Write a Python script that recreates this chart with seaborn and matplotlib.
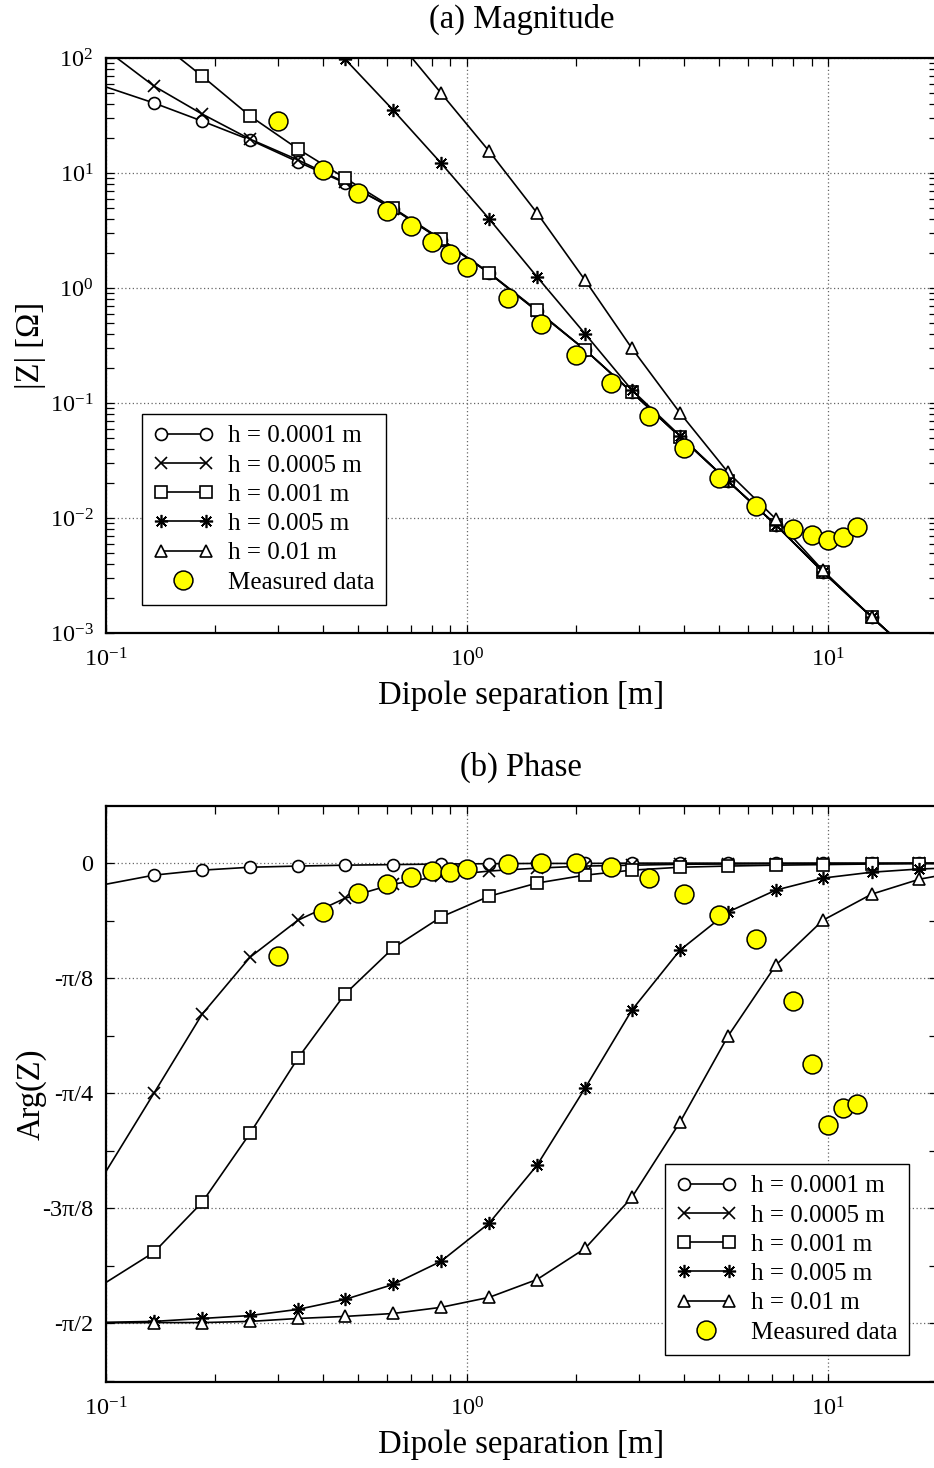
import numpy as np
import pandas as pd
import matplotlib
matplotlib.use("Agg")
import matplotlib.pyplot as plt
import seaborn as sns
from matplotlib.lines import Line2D
from matplotlib.legend_handler import HandlerLine2D
from matplotlib.ticker import FixedLocator, LogLocator, NullFormatter, MultipleLocator

# ---------------- data ----------------
x_model = [0.1, 0.1358, 0.1845, 0.2506, 0.340, 0.459, 0.624, 0.847, 1.151, 1.563,
           2.123, 2.86, 3.89, 5.28, 7.17, 9.68, 13.2, 17.9, 20.0]

mag_h1 = [56, 40.6, 28.3, 19.4, 12.5, 8.2, 4.9, 2.62, 1.35, 0.63, 0.29, 0.124,
          0.051, 0.021, 0.0087, 0.0034, 0.00138, 0.00058, 0.00042]
mag_h2 = [118, 57, 32.6, 19.7, 13.0, 8.3, 4.9, 2.64, 1.35, 0.63, 0.29, 0.124,
          0.051, 0.021, 0.0087, 0.0034, 0.00138, 0.00058, 0.00042]
mag_h3 = [380, 150, 69.7, 31.3, 16.2, 9.05, 4.97, 2.67, 1.36, 0.64, 0.29, 0.125,
          0.051, 0.021, 0.0087, 0.0034, 0.00138, 0.00058, 0.00042]
mag_h4 = [15000, 5000, 1900, 720, 272, 98, 35.3, 12.2, 4.0, 1.25, 0.40, 0.13,
          0.052, 0.021, 0.0087, 0.0034, 0.00138, 0.00058, 0.00042]
mag_h5 = [130000, 40000, 14000, 4500, 1500, 500, 158, 49.6, 15.5, 4.49, 1.17, 0.30,
          0.082, 0.025, 0.0098, 0.0035, 0.00138, 0.00058, 0.00042]

ph_h1 = [-0.072, -0.041, -0.024, -0.014, -0.010, -0.007, -0.005, -0.003, -0.002, -0.001,
         -0.001, 0, 0, 0, 0, 0, 0, 0, 0]
ph_h2 = [-1.052, -0.785, -0.516, -0.321, -0.195, -0.120, -0.072, -0.044, -0.027, -0.017,
         -0.010, -0.007, -0.004, -0.003, -0.002, -0.001, -0.001, 0, 0]
ph_h3 = [-1.431, -1.328, -1.158, -0.922, -0.666, -0.447, -0.290, -0.184, -0.113, -0.068,
         -0.041, -0.024, -0.014, -0.010, -0.007, -0.005, -0.003, -0.002, -0.002]
ph_h4 = [-1.567, -1.564, -1.554, -1.544, -1.523, -1.489, -1.438, -1.359, -1.229, -1.031,
         -0.768, -0.502, -0.297, -0.167, -0.092, -0.051, -0.031, -0.020, -0.018]
ph_h5 = [-1.569, -1.568, -1.568, -1.564, -1.554, -1.547, -1.537, -1.516, -1.482, -1.421,
         -1.315, -1.141, -0.884, -0.591, -0.348, -0.195, -0.106, -0.055, -0.044]

meas_x = [0.3, 0.4, 0.5, 0.6, 0.7, 0.8, 0.9, 1.0, 1.3, 1.6, 2.0, 2.5, 3.2, 4.0, 5.0,
          6.3, 8.0, 9.0, 10, 11, 12]
meas_mag = [28.3, 10.6, 6.7, 4.68, 3.46, 2.51, 1.98, 1.52, 0.82, 0.49, 0.26, 0.149,
            0.077, 0.041, 0.0223, 0.0126, 0.0080, 0.0071, 0.0064, 0.0068, 0.0084]
meas_phase = [-0.318, -0.167, -0.102, -0.072, -0.048, -0.027, -0.031, -0.020, -0.003,
              0.0, 0.001, -0.014, -0.051, -0.106, -0.178, -0.26, -0.471, -0.686,
              -0.895, -0.837, -0.823]

series_labels = ["h = 0.0001 m", "h = 0.0005 m", "h = 0.001 m", "h = 0.005 m", "h = 0.01 m"]
meas_label = "Measured data"

x_ticks = [0.1, 1, 10]
x_ticklabels = [r"$10^{-1}$", r"$10^{0}$", r"$10^{1}$"]
mag_ticks = [1e-3, 1e-2, 1e-1, 1e0, 1e1, 1e2]
mag_ticklabels = [r"$10^{-3}$", r"$10^{-2}$", r"$10^{-1}$", r"$10^{0}$", r"$10^{1}$", r"$10^{2}$"]
ph_ticks = [0, -np.pi / 8, -np.pi / 4, -3 * np.pi / 8, -np.pi / 2]
ph_ticklabels = ["0", "-π/8", "-π/4", "-3π/8", "-π/2"]

# ---------------- style ----------------
sns.set_theme(style="ticks")
plt.rcParams["font.family"] = ["Liberation Serif", "DejaVu Serif"]
plt.rcParams["mathtext.fontset"] = "custom"
plt.rcParams["mathtext.rm"] = "Liberation Serif"
plt.rcParams["mathtext.it"] = "Liberation Serif:italic"
plt.rcParams["axes.unicode_minus"] = False
for k in ["text.color", "axes.labelcolor", "xtick.color", "ytick.color",
          "axes.edgecolor"]:
    plt.rcParams[k] = "black"

markers = ["o", "x", "s", (8, 2, 0), "^"]
msizes = [8.6, 8.0, 8.0, 9.5, 9.2]

W, H = 934, 1468
fig = plt.figure(figsize=(W / 100, H / 100), dpi=100)
left = 106 / W
width = (936.7 - 106) / W
ax1 = fig.add_axes([left, (H - 633) / H, width, 575 / H])
ax2 = fig.add_axes([left, (H - 1382) / H, width, 576 / H])

mag_series = [mag_h1, mag_h2, mag_h3, mag_h4, mag_h5]
ph_series = [ph_h1, ph_h2, ph_h3, ph_h4, ph_h5]

for ax in (ax1, ax2):
    ax.set_xscale("log")
ax1.set_yscale("log")


def draw(ax, ys_list, meas_y):
    for ys, mk, ms in zip(ys_list, markers, msizes):
        df = pd.DataFrame({"x": x_model, "y": ys})
        sns.lineplot(data=df, x="x", y="y", ax=ax, color="black", lw=1.2,
                     marker=mk, markevery=slice(1, -1), ms=ms,
                     mfc="white", mec="black", mew=1.2, errorbar=None,
                     legend=False, zorder=3)
    dfm = pd.DataFrame({"x": meas_x, "y": meas_y})
    sns.scatterplot(data=dfm, x="x", y="y", ax=ax, s=185, color="#ffff00",
                    edgecolor="black", linewidth=1.1, zorder=5, legend=False)


draw(ax1, mag_series, meas_mag)
draw(ax2, ph_series, meas_phase)

for ax in (ax1, ax2):
    ax.set_xlim(0.1, 20)
    ax.xaxis.set_major_locator(FixedLocator(x_ticks))
    ax.set_xticklabels(x_ticklabels)
    ax.xaxis.set_minor_locator(LogLocator(base=10, subs=np.arange(2, 10)))
    ax.xaxis.set_minor_formatter(NullFormatter())
    ax.tick_params(which="both", direction="in", top=True, right=True,
                   length=5.5, width=0.9, colors="black", labelsize=17.5, pad=9)
    ax.tick_params(axis="x", which="major", pad=11)
    for s in ax.spines.values():
        s.set_linewidth(1.6)
        s.set_color("black")
    ax.grid(True, which="major", ls=(0, (1, 2)), color="#666666", lw=0.9)
    ax.set_axisbelow(True)
    ax.set_xlabel("Dipole separation [m]", fontsize=23.5)
    ax.xaxis.set_label_coords(0.5, -0.083)

ax1.set_ylim(1e-3, 1e2)
ax1.yaxis.set_major_locator(FixedLocator(mag_ticks))
ax1.set_yticklabels(mag_ticklabels)
ax1.yaxis.set_minor_locator(LogLocator(base=10, subs=np.arange(2, 10)))
ax1.yaxis.set_minor_formatter(NullFormatter())
ax1.set_ylabel("|Z| [Ω]", fontsize=23.5)
ax1.yaxis.set_label_coords(-0.072, 0.5)
ax1.set_title("(a) Magnitude", fontsize=23.5, pad=22)

ax2.set_ylim(-np.pi / 2 - 0.2, 0.195)
ax2.yaxis.set_major_locator(FixedLocator(ph_ticks))
ax2.set_yticklabels(ph_ticklabels)
ax2.yaxis.set_minor_locator(MultipleLocator(np.pi / 16))
ax2.set_ylabel("Arg(Z)", fontsize=23.5)
ax2.yaxis.set_label_coords(-0.072, 0.5)
ax2.set_title("(b) Phase", fontsize=23.5, pad=22)

# legend handles
handles = []
for mk, ms in zip(markers, msizes):
    handles.append(Line2D([0], [0], color="black", lw=1.2, marker=mk, ms=ms,
                          mfc="white", mec="black", mew=1.2))
meas_h = Line2D([0], [0], ls="none", marker="o", ms=13.6, mfc="#ffff00",
                mec="black", mew=1.1)
handles.append(meas_h)
labels = series_labels + [meas_label]

leg_kw = dict(numpoints=2, handlelength=2.4, handletextpad=0.6, labelspacing=0.27,
              borderpad=0.45, borderaxespad=0, fontsize=18, fancybox=False,
              framealpha=1, edgecolor="black",
              handler_map={meas_h: HandlerLine2D(numpoints=1)})
l1 = ax1.legend(handles, labels, loc="lower left", bbox_to_anchor=(0.0433, 0.0487), **leg_kw)
l2 = ax2.legend(handles, labels, loc="lower right", bbox_to_anchor=(0.9667, 0.0469), **leg_kw)
for lg in (l1, l2):
    lg.get_frame().set_linewidth(1.0)
    lg.set_zorder(10)

fig.savefig("out.png", dpi=100)
